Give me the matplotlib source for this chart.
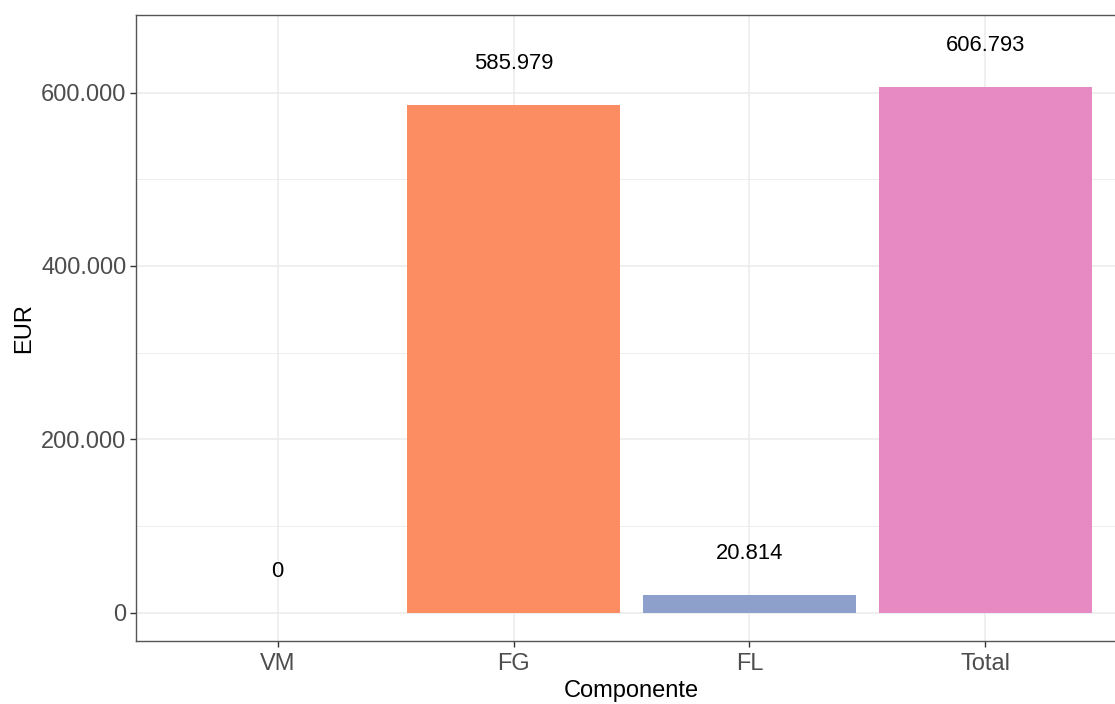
import matplotlib
matplotlib.use("Agg")
import matplotlib.pyplot as plt
from matplotlib.ticker import FixedLocator, FuncFormatter

categories = ["VM", "FG", "FL", "Total"]
values = [0, 585979, 20814, 606793]
colors = ["#66C2A5", "#FC8D62", "#8DA0CB", "#E78AC3"]
yticks = [0, 200000, 400000, 600000]
yminor = [100000, 300000, 500000]

plt.rcParams['font.family'] = ['Liberation Sans', 'DejaVu Sans']

fig = plt.figure(figsize=(11.15, 7.04), dpi=100)
ax = fig.add_axes([136/1115, 63/704, (1127-136)/1115, (641-15)/704])

x = list(range(1, len(categories) + 1))
ax.bar(x, values, width=0.9, color=colors, zorder=3)

def fmt(v):
    return f"{int(round(v)):,}".replace(",", ".")

offset = 50000
for xi, v in zip(x, values):
    ax.text(xi, v + offset, fmt(v), ha="center", va="center_baseline", fontsize=15.8,
            color="black", zorder=4)

top = max(values) + offset
rng = top - 0
ax.set_ylim(-0.05 * rng, top + 0.05 * rng)
ax.set_xlim(0.4, 4.6)

ax.set_xticks(x)
ax.set_xticklabels(categories)
ax.yaxis.set_major_locator(FixedLocator(yticks))
ax.yaxis.set_minor_locator(FixedLocator(yminor))
ax.yaxis.set_major_formatter(FuncFormatter(lambda v, p: fmt(v)))

ax.grid(True, which="major", color="#EBEBEB", linewidth=1.1, zorder=0)
ax.grid(True, which="minor", axis="y", color="#EBEBEB", linewidth=0.6, zorder=0)
ax.set_axisbelow(True)

for s in ax.spines.values():
    s.set_color("#555555")
    s.set_linewidth(1.0)

ax.tick_params(axis="both", which="major", length=4, width=1, color="#333333",
               labelsize=17, labelcolor="#4D4D4D", pad=3)
ax.tick_params(axis="x", which="major", pad=4.5)
ax.tick_params(axis="y", which="minor", length=0)

ax.set_xlabel("Componente", fontsize=17, color="black", labelpad=4)
ax.set_ylabel("EUR", fontsize=17, color="black", labelpad=4)

fig.savefig("out.png", dpi=100)
